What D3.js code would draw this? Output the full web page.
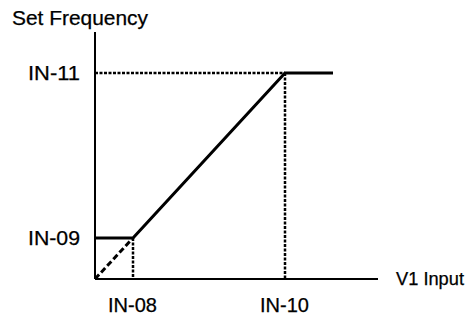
<!DOCTYPE html>
<html><head><meta charset="utf-8">
<script src="https://cdn.jsdelivr.net/npm/d3@7"></script>
<style>html,body{margin:0;padding:0;background:#fff;}svg{display:block;}text{font-family:"Liberation Sans",Arial,sans-serif;fill:#000;stroke:#000;stroke-width:0.25px;}</style>
</head><body>
<script>
const xTickLabels = ["IN-08", "IN-10"];
const xTickValues = [2, 10];
const yTickLabels = ["IN-09", "IN-11"];
const yTickValues = [2, 10];
const curveX = [0, 2, 10, 12.5];
const curveY = [2, 2, 10, 10];
const dashX = [0, 2];
const dashY = [0, 2];
const xAxisTitle = "V1 Input";
const yAxisTitle = "Set Frequency";

const W = 467, H = 321;
const svg = d3.select("body").append("svg").attr("width", W).attr("height", H);
const x = d3.scaleLinear().domain([0, 15]).range([95, 380]);
const y = d3.scaleLinear().domain([0, 12]).range([279, 32]);
const px = v => Math.round(x(v));
const py = v => Math.round(y(v));
const fs = 20;

// axes
svg.append("line").attr("x1", px(0)).attr("x2", px(0)).attr("y1", py(0)).attr("y2", py(12))
  .attr("stroke", "#000").attr("stroke-width", 2);
svg.append("line").attr("x1", px(0)).attr("x2", px(14.9)).attr("y1", py(0)).attr("y2", py(0))
  .attr("stroke", "#000").attr("stroke-width", 2);

// dotted guides
xTickValues.forEach((v, i) => {
  svg.append("line").attr("x1", px(v)).attr("x2", px(v)).attr("y1", py(yTickValues[i])).attr("y2", py(0))
    .attr("stroke", "#000").attr("stroke-width", 2.5).attr("stroke-dasharray", "3,1.5");
});
svg.append("line").attr("x1", px(0)).attr("x2", px(xTickValues[1])).attr("y1", py(yTickValues[1])).attr("y2", py(yTickValues[1]))
  .attr("stroke", "#000").attr("stroke-width", 2.5).attr("stroke-dasharray", "3,1.5");

// dashed diagonal
const line = d3.line().x(d => px(d[0])).y(d => py(d[1]));
svg.append("path").attr("d", line(dashX.map((v, i) => [v, dashY[i]])))
  .attr("fill", "none").attr("stroke", "#000").attr("stroke-width", 3).attr("stroke-dasharray", "6,3");

// main curve
svg.append("path").attr("d", line(curveX.map((v, i) => [v, curveY[i]])))
  .attr("fill", "none").attr("stroke", "#000").attr("stroke-width", 3).attr("stroke-linejoin", "miter");

// labels
const fit = (sel, len) => sel.attr("textLength", len).attr("lengthAdjust", "spacingAndGlyphs");
yTickValues.forEach((v, i) => {
  fit(svg.append("text").attr("x", 80).attr("y", py(v)).attr("dy", "0.35em")
    .attr("text-anchor", "end").attr("font-size", fs).text(yTickLabels[i]), 52);
});
xTickValues.forEach((v, i) => {
  fit(svg.append("text").attr("x", px(v) - 0.5).attr("y", 312)
    .attr("text-anchor", "middle").attr("font-size", fs).text(xTickLabels[i]), 49);
});
fit(svg.append("text").attr("x", 12).attr("y", 25).attr("font-size", fs).text(yAxisTitle), 136);
fit(svg.append("text").attr("x", 396).attr("y", py(0)).attr("dy", "0.35em").attr("font-size", 18.5).text(xAxisTitle), 68);
</script>
</body></html>
